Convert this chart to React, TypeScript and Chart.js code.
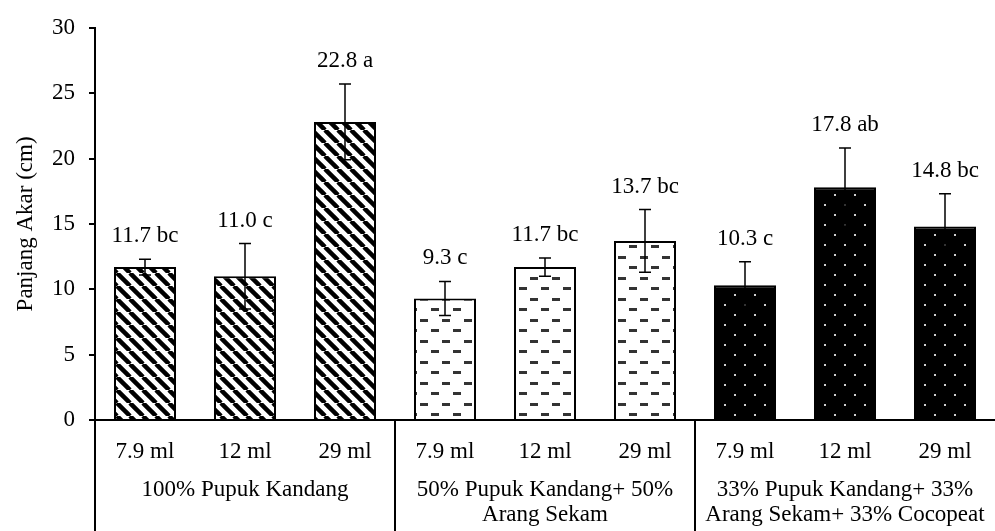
import { useEffect, useRef } from "react";
import { Chart, registerables } from "chart.js";

Chart.register(...registerables);

const CATEGORIES = ["7.9 ml", "12 ml", "29 ml", "7.9 ml", "12 ml", "29 ml", "7.9 ml", "12 ml", "29 ml"];
const VALUES = [11.7, 11.0, 22.8, 9.3, 11.7, 13.7, 10.3, 17.8, 14.8];
const ERRORS = [0.6, 2.5, 2.9, 1.3, 0.7, 2.4, 1.8, 3.0, 2.5];
const NOTATIONS = ["bc", "c", "a", "c", "bc", "bc", "c", "ab", "bc"];
const GROUPS = [
  ["100% Pupuk Kandang"],
  ["50% Pupuk Kandang+ 50%", "Arang Sekam"],
  ["33% Pupuk Kandang+ 33%", "Arang Sekam+ 33% Cocopeat"],
];
const GROUP_SIZE = 3;

const FONT = '"Liberation Serif", "Times New Roman", serif';
const FONT_SIZE = 23;

// diagonal black stripes
function stripePattern(ctx: CanvasRenderingContext2D) {
  const s = 13;
  const c = document.createElement("canvas");
  c.width = s;
  c.height = s;
  const g = c.getContext("2d")!;
  g.fillStyle = "#fff";
  g.fillRect(0, 0, s, s);
  g.strokeStyle = "#000";
  g.lineWidth = 4.5;
  for (const x0 of [-s, 0, s]) {
    g.beginPath();
    g.moveTo(x0, 0);
    g.lineTo(x0 + s, s);
    g.stroke();
  }
  return ctx.createPattern(c, "repeat")!;
}

// white with grey dashes
function dashPattern(ctx: CanvasRenderingContext2D) {
  const c = document.createElement("canvas");
  c.width = 22;
  c.height = 21;
  const g = c.getContext("2d")!;
  g.fillStyle = "#fff";
  g.fillRect(0, 0, 22, 21);
  g.fillStyle = "#333";
  g.fillRect(2, 4, 8, 3);
  g.fillRect(13, 14, 8, 3);
  return ctx.createPattern(c, "repeat")!;
}

// black with white dots
function dotPattern(ctx: CanvasRenderingContext2D) {
  const c = document.createElement("canvas");
  c.width = 20;
  c.height = 20;
  const g = c.getContext("2d")!;
  g.fillStyle = "#000";
  g.fillRect(0, 0, 20, 20);
  g.fillStyle = "#d0d0d0";
  g.fillRect(4, 4, 2, 2);
  g.fillRect(14, 14, 2, 2);
  return ctx.createPattern(c, "repeat")!;
}

const annotatePlugin = {
  id: "annotate",
  afterDatasetsDraw(chart: any) {
    const ctx = chart.ctx as CanvasRenderingContext2D;
    const meta = chart.getDatasetMeta(0);
    const y = chart.scales.y;
    ctx.save();
    meta.data.forEach((bar: any, i: number) => {
      const x = bar.x;
      const top = y.getPixelForValue(VALUES[i] + ERRORS[i]);
      const bot = y.getPixelForValue(VALUES[i] - ERRORS[i]);
      ctx.strokeStyle = "#000";
      ctx.lineWidth = 1.5;
      ctx.beginPath();
      ctx.moveTo(x, top);
      ctx.lineTo(x, bot);
      ctx.moveTo(x - 6, top);
      ctx.lineTo(x + 6, top);
      ctx.moveTo(x - 6, bot);
      ctx.lineTo(x + 6, bot);
      ctx.stroke();

      ctx.fillStyle = "#000";
      ctx.font = `${FONT_SIZE}px ${FONT}`;
      ctx.textAlign = "center";
      ctx.textBaseline = "middle";
      ctx.fillText(`${VALUES[i].toFixed(1)} ${NOTATIONS[i]}`, x, top - 23);
    });
    ctx.restore();
  },
  afterDraw(chart: any) {
    const ctx = chart.ctx as CanvasRenderingContext2D;
    const { left, right, bottom } = chart.chartArea;
    const catW = (right - left) / CATEGORIES.length;
    ctx.save();
    ctx.strokeStyle = "#000";
    ctx.lineWidth = 2;
    ctx.fillStyle = "#000";
    ctx.font = `${FONT_SIZE}px ${FONT}`;
    ctx.textAlign = "center";
    ctx.textBaseline = "middle";
    GROUPS.forEach((lines, g) => {
      const x0 = left + g * GROUP_SIZE * catW;
      ctx.beginPath();
      ctx.moveTo(x0, bottom);
      ctx.lineTo(x0, chart.height);
      ctx.stroke();
      const cx = x0 + (GROUP_SIZE * catW) / 2;
      lines.forEach((t, k) => {
        ctx.fillText(t, cx, bottom + 70 + k * 25);
      });
    });
    ctx.restore();
  },
};

export default function App() {
  const canvasRef = useRef<HTMLCanvasElement>(null);
  const chartRef = useRef<Chart | null>(null);

  useEffect(() => {
    if (!canvasRef.current) return;
    const ctx = canvasRef.current.getContext("2d");
    if (!ctx) return;

    const fills = [
      stripePattern(ctx),
      dashPattern(ctx),
      dotPattern(ctx),
    ];
    const bg = VALUES.map((_, i) => fills[Math.floor(i / GROUP_SIZE)]);

    chartRef.current = new Chart(ctx, {
      type: "bar",
      data: {
        labels: CATEGORIES,
        datasets: [
          {
            data: VALUES,
            backgroundColor: bg as any,
            borderColor: "#000",
            borderWidth: 2,
            borderSkipped: "bottom",
            barPercentage: 0.62,
            categoryPercentage: 1,
          },
        ],
      },
      options: {
        responsive: false,
        animation: false,
        layout: { padding: { top: 22, left: 8, right: 0, bottom: 0 } },
        plugins: {
          legend: { display: false },
          tooltip: { enabled: false },
        },
        scales: {
          x: {
            grid: { display: false },
            border: { display: true, color: "#000", width: 2 },
            ticks: {
              color: "#000",
              font: { family: FONT, size: FONT_SIZE },
              padding: 10,
              maxRotation: 0,
              autoSkip: false,
            },
            afterFit: (scale: any) => {
              scale.height = 111;
            },
          },
          y: {
            min: 0,
            max: 30,
            ticks: {
              stepSize: 5,
              color: "#000",
              font: { family: FONT, size: FONT_SIZE },
              padding: 14,
            },
            grid: {
              display: true,
              drawOnChartArea: false,
              tickLength: 6,
              color: "#000",
              lineWidth: 2,
            },
            border: { display: true, color: "#000", width: 2 },
            title: {
              display: true,
              text: "Panjang Akar (cm)",
              color: "#000",
              font: { family: FONT, size: FONT_SIZE },
            },
            afterFit: (scale: any) => {
              scale.width = 87;
            },
          },
        },
      },
      plugins: [annotatePlugin],
    });

    return () => {
      if (chartRef.current) {
        chartRef.current.destroy();
        chartRef.current = null;
      }
    };
  }, []);

  return (
    <div style={{ position: "absolute", left: 0, top: 0, width: 995, height: 531, background: "#fff" }}>
      <canvas ref={canvasRef} width={995} height={531} />
    </div>
  );
}
